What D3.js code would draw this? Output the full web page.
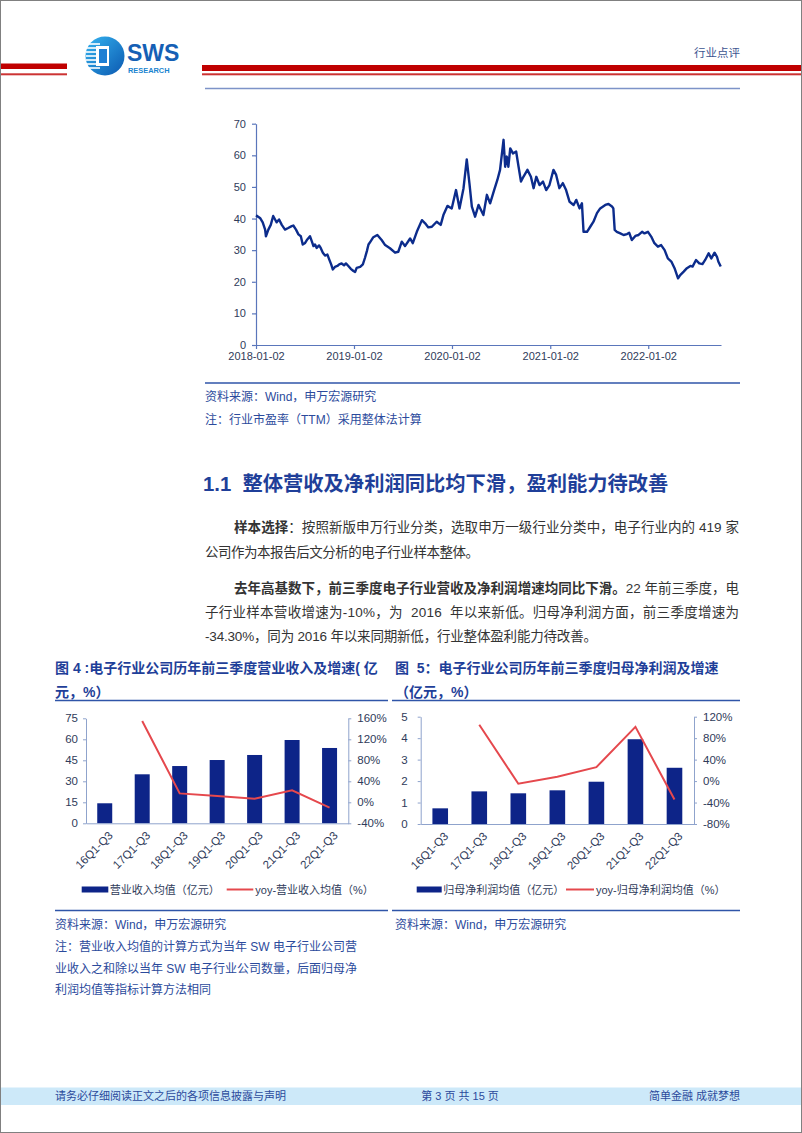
<!DOCTYPE html>
<html><head><meta charset="utf-8">
<script src="https://cdn.jsdelivr.net/npm/d3@7"></script>
<style>body{margin:0;background:#fff} svg{display:block}</style>
</head><body><svg id="page" width="802" height="1133"></svg>
<script>
// ---------- DATA ----------
const peDates = ["2018-01-02","2018-01-17","2018-01-27","2018-02-05","2018-02-08","2018-02-17","2018-02-26","2018-03-07","2018-03-14","2018-03-20","2018-03-29","2018-04-08","2018-04-20","2018-05-02","2018-05-15","2018-05-21","2018-05-31","2018-06-09","2018-06-18","2018-06-25","2018-07-04","2018-07-12","2018-07-22","2018-07-29","2018-08-04","2018-08-10","2018-08-16","2018-08-25","2018-08-31","2018-09-08","2018-09-16","2018-09-25","2018-10-02","2018-10-09","2018-10-15","2018-10-23","2018-11-01","2018-11-08","2018-11-17","2018-11-26","2018-12-03","2018-12-12","2018-12-21","2018-12-31","2019-01-06","2019-01-12","2019-01-25","2019-02-04","2019-02-12","2019-02-19","2019-02-25","2019-03-05","2019-03-15","2019-03-30","2019-04-15","2019-04-28","2019-05-16","2019-06-04","2019-06-16","2019-06-29","2019-07-11","2019-07-30","2019-08-09","2019-08-24","2019-09-12","2019-09-24","2019-10-06","2019-10-19","2019-11-06","2019-11-21","2019-12-01","2019-12-16","2020-01-01","2020-01-17","2020-01-30","2020-02-14","2020-02-26","2020-03-07","2020-03-16","2020-03-28","2020-04-10","2020-04-28","2020-05-11","2020-05-23","2020-06-07","2020-06-19","2020-06-29","2020-07-12","2020-07-18","2020-07-24","2020-07-30","2020-08-06","2020-08-16","2020-08-28","2020-09-06","2020-09-15","2020-09-24","2020-10-09","2020-10-22","2020-11-01","2020-11-11","2020-11-23","2020-12-06","2020-12-18","2020-12-30","2021-01-14","2021-01-24","2021-02-05","2021-02-18","2021-03-02","2021-03-15","2021-03-30","2021-04-09","2021-04-21","2021-04-30","2021-05-06","2021-05-19","2021-05-31","2021-06-12","2021-06-25","2021-07-07","2021-07-26","2021-08-07","2021-08-20","2021-08-25","2021-08-30","2021-09-07","2021-09-20","2021-10-02","2021-10-15","2021-10-23","2021-11-02","2021-11-15","2021-11-27","2021-12-10","2021-12-19","2022-01-01","2022-01-13","2022-01-25","2022-02-07","2022-02-19","2022-03-04","2022-03-16","2022-03-29","2022-04-10","2022-04-23","2022-05-01","2022-05-14","2022-05-26","2022-06-08","2022-06-16","2022-06-29","2022-07-11","2022-07-23","2022-08-02","2022-08-15","2022-08-25","2022-09-06","2022-09-15","2022-09-20","2022-09-29"];
const peValues = [41,40.2,38.8,36.5,34.4,36.5,38,40.8,39.7,38.8,39.7,38,36.5,37,37.6,37.8,36.5,35,34.4,31.8,32.3,33.4,34.4,32.8,31.3,31.8,30.7,31.5,30.7,29.2,28.3,28.6,27,25.5,23.9,24.7,25,25.5,25.8,25.2,25.8,25,24.1,23.4,23.1,24.4,24.7,25.5,27.6,29.7,31.8,32.8,34.1,34.8,33.2,31.6,30.6,29.2,29.5,32.7,31.3,33.7,32.2,35.8,39.5,38.5,37.2,37.4,39,38,41.1,44,43.2,49,43.2,49.6,58.7,51.1,43.8,40.6,44.3,41.1,47.5,44.8,49,52.2,55.4,64.9,56.4,59.6,56.4,62.2,60.6,61.2,56.4,51.7,53.2,55.4,53.2,49.6,53.2,50.6,51.7,49,50.6,55.4,53.8,49.6,51.2,49,45.3,44.3,45.9,43.2,44.8,35.8,35.8,37.4,39,41.7,43.2,44.3,44.6,43.8,43.2,36.4,35.8,35.3,34.8,35.1,35.5,33.2,34.5,34.8,35.8,35.3,35.8,34.3,32.2,31.1,31.6,30,27.4,26.4,24.3,21.1,22.1,23.2,24.3,25,24.8,26.9,25.8,25.6,26.9,29,27.4,29.2,27.9,26.4,24.8];
const peXTicks = ["2018-01-02","2019-01-02","2020-01-02","2021-01-02","2022-01-02"];
const peYTicks = [0,10,20,30,40,50,60,70];
const peEnd = "2022-09-30";

const periods = ["16Q1-Q3","17Q1-Q3","18Q1-Q3","19Q1-Q3","20Q1-Q3","21Q1-Q3","22Q1-Q3"];
const revenueAvg = [14.3,35,40.9,45.2,48.8,59.5,53.8];
const revenueYoy = [null,155,17,12,7,23,-10];
const revLeftTicks = [0,15,30,45,60,75];
const revRightTicks = [-40,0,40,80,120,160];
const profitAvg = [0.73,1.52,1.43,1.57,1.97,3.95,2.62];
const profitYoy = [null,105,-5,8,26,101,-34.3];
const profLeftTicks = [0,1,2,3,4,5];
const profRightTicks = [-80,-40,0,40,80,120];

// ---------- STYLE ----------
const CJK = "'Liberation Sans','Noto Sans CJK SC',sans-serif";
const BLUE_T = "#1f3f99", CAP = "#2b4a9c", BODY = "#333333", AX_TXT = "#2f3b5a";
const BAR = "#0d2488", RED = "#e5484d";

const svg = d3.select("#page");
svg.append("rect").attr("width",802).attr("height",1133).attr("fill","#fff");

// ---------- HEADER ----------
const hdr = svg.append("g");
hdr.append("rect").attr("x",0).attr("y",63.5).attr("width",67).attr("height",5.5).attr("fill","#c00000");
hdr.append("rect").attr("x",0).attr("y",73.3).attr("width",67).attr("height",2).attr("fill","#cc3333");
hdr.append("rect").attr("x",202).attr("y",65).attr("width",600).attr("height",6).attr("fill","#c00000");
hdr.append("rect").attr("x",202).attr("y",73.3).attr("width",600).attr("height",2).attr("fill","#cc3333");
hdr.append("line").attr("x1",205).attr("x2",740).attr("y1",88.5).attr("y2",88.5).attr("stroke","#7d93c8").attr("stroke-width",1.5);
// logo
const defs = svg.append("defs");
const lg = defs.append("linearGradient").attr("id","lg").attr("x1","0").attr("x2","1").attr("y1","0").attr("y2","1");
lg.append("stop").attr("offset","0").attr("stop-color","#35b4f0");
lg.append("stop").attr("offset","1").attr("stop-color","#0b58b0");
hdr.append("circle").attr("cx",105).attr("cy",56).attr("r",19.5).attr("fill","url(#lg)");
[44,48,52,56,60,64,68].forEach(y=>{
  hdr.append("line").attr("x1",86).attr("x2",100).attr("y1",y).attr("y2",y).attr("stroke","#fff").attr("stroke-width",1.6);
});
hdr.append("rect").attr("x",96).attr("y",46).attr("width",13).attr("height",20).attr("fill","#fff");
hdr.append("rect").attr("x",99).attr("y",49).attr("width",8).attr("height",14).attr("fill","#1d7fd4");
hdr.append("text").attr("x",127).attr("y",61).attr("font-family","'Liberation Sans',sans-serif").attr("font-weight","bold")
  .attr("font-size",23).attr("fill","#1560b5").text("SWS");
hdr.append("text").attr("x",128).attr("y",72.5).attr("font-family","'Liberation Sans',sans-serif").attr("font-weight","bold")
  .attr("font-size",7.4).attr("fill","#1a84d0").text("RESEARCH");
hdr.append("text").attr("x",740).attr("y",56.5).attr("text-anchor","end").attr("font-family",CJK)
  .attr("font-size",11.5).attr("fill","#3c5490").text("行业点评");

// ---------- PE LINE CHART ----------
const pe = svg.append("g");
const parse = d3.timeParse("%Y-%m-%d");
const peData = peDates.map((d,i)=>({date:parse(d), v:peValues[i]}));
const xT = d3.scaleTime().domain([parse(peXTicks[0]), parse(peEnd)]).range([256,721]);
const yT = d3.scaleLinear().domain([0,70]).range([345,123.7]);
const fmtTick = d3.timeFormat("%Y-%m-%d");
const gx = pe.append("g").attr("transform","translate(0,345)")
  .call(d3.axisBottom(xT).tickValues(peXTicks.map(parse)).tickFormat(fmtTick).tickSize(4).tickPadding(3).tickSizeOuter(0));
const gy = pe.append("g").attr("transform","translate(256,0)")
  .call(d3.axisLeft(yT).tickValues(peYTicks).tickSize(4).tickPadding(6).tickSizeOuter(0));
[gx,gy].forEach(g=>{
  g.selectAll("path,line").attr("stroke","#5a76bb").attr("stroke-width",1.2);
  g.selectAll("text").attr("font-family","'Liberation Sans',sans-serif").attr("font-size",11).attr("fill",AX_TXT);
});
pe.append("path").datum(peData)
  .attr("d", d3.line().x(d=>xT(d.date)).y(d=>yT(d.v)))
  .attr("fill","none").attr("stroke","#0c2c8c").attr("stroke-width",2.4).attr("stroke-linejoin","round");

pe.append("line").attr("x1",205).attr("x2",740).attr("y1",383).attr("y2",383).attr("stroke","#2f55a8").attr("stroke-width",1.5);
pe.append("text").attr("x",205).attr("y",400.5).attr("font-family",CJK).attr("font-size",12).attr("fill",CAP).text("资料来源：Wind，申万宏源研究");
pe.append("text").attr("x",205).attr("y",423.5).attr("font-family",CJK).attr("font-size",12).attr("fill",CAP).text("注：行业市盈率（TTM）采用整体法计算");

// ---------- HEADING & BODY ----------
svg.append("text").attr("x",203).attr("y",490.5).attr("font-family",CJK).attr("font-weight","bold")
  .attr("font-size",20.3).attr("fill",BLUE_T).attr("xml:space","preserve").text("1.1  整体营收及净利润同比均下滑，盈利能力待改善");

function bodyLine(x, y, parts, target){
  const t = svg.append("text").attr("x",x).attr("y",y).attr("font-family",CJK).attr("font-size",13.5).attr("fill",BODY).attr("xml:space","preserve");
  parts.forEach(p=>{ t.append("tspan").attr("font-weight",p.b?"bold":"normal").text(p.t); });
  if(target){
    const L = t.node().getComputedTextLength();
    const n = parts.reduce((a,p)=>a+p.t.length,0);
    t.attr("letter-spacing", ((target - L)/(n-1)).toFixed(3));
  }
  return t;
}
bodyLine(234,532,[{t:"样本选择",b:true},{t:"：按照新版申万行业分类，选取申万一级行业分类中，电子行业内的 419 家"}],505);
bodyLine(205,556.5,[{t:"公司作为本报告后文分析的电子行业样本整体。"}],274);
bodyLine(234,592.5,[{t:"去年高基数下，前三季度电子行业营收及净利润增速均同比下滑。",b:true},{t:"22 年前三季度，电"}],505);
bodyLine(205,616.5,[{t:"子行业样本营收增速为-10%，为  2016  年以来新低。归母净利润方面，前三季度增速为"}],534);
bodyLine(205,641,[{t:"-34.30%，同为 2016 年以来同期新低，行业整体盈利能力待改善。"}],392);

// ---------- BAR + LINE CHARTS ----------
function comboChart(o){
  const g = svg.append("g");
  o.title.forEach((s,i)=>{
    g.append("text").attr("x",o.tx).attr("y",673+i*24).attr("font-family",CJK).attr("font-weight","bold")
      .attr("font-size",14).attr("fill",BLUE_T).attr("xml:space","preserve").text(s);
  });
  g.append("line").attr("x1",o.lineX[0]).attr("x2",o.lineX[1]).attr("y1",700.5).attr("y2",700.5).attr("stroke","#2f55a8").attr("stroke-width",1.5);
  const x = d3.scaleBand().domain(periods).range([o.x0,o.x1]).paddingInner(0.6).paddingOuter(0.3);
  const yL = d3.scaleLinear().domain(o.lDom).range([o.yb,o.yt]);
  const yR = d3.scaleLinear().domain(o.rDom).range([o.yb,o.yt]);
  g.selectAll("rect.bar").data(o.bars).join("rect").attr("class","bar")
    .attr("x",(d,i)=>x(periods[i])).attr("width",x.bandwidth())
    .attr("y",d=>yL(d)).attr("height",d=>yL(0)-yL(d)).attr("fill",BAR);
  const axL = g.append("g").attr("transform",`translate(${o.x0},0)`)
    .call(d3.axisLeft(yL).tickValues(o.lTicks).tickSize(3).tickPadding(o.lpad).tickFormat(d3.format("d")).tickSizeOuter(0));
  const axR = g.append("g").attr("transform",`translate(${o.x1},0)`)
    .call(d3.axisRight(yR).tickValues(o.rTicks).tickSize(3).tickPadding(6).tickFormat(d=>d+"%").tickSizeOuter(0));
  const axB = g.append("g").attr("transform",`translate(0,${o.yb})`)
    .call(d3.axisBottom(x).tickSize(0).tickSizeOuter(0));
  [axL,axR,axB].forEach(a=>{
    a.selectAll("path,line").attr("stroke","#8fa3cc").attr("stroke-width",1);
    a.selectAll("text").attr("font-family","'Liberation Sans',sans-serif").attr("font-size",11.5).attr("fill",AX_TXT);
  });
  axB.selectAll("text").attr("text-anchor","end").attr("dy","0.35em")
    .attr("transform","translate(6,10) rotate(-45)").attr("y",0);
  const pts = o.yoy.map((v,i)=>({v, c:x(periods[i])+x.bandwidth()/2})).filter(d=>d.v!==null);
  g.append("path").datum(pts).attr("d",d3.line().x(d=>d.c).y(d=>yR(d.v)))
    .attr("fill","none").attr("stroke",RED).attr("stroke-width",2);
  // legend
  g.append("rect").attr("x",o.leg[0]).attr("y",886.5).attr("width",o.leg[1]-o.leg[0]).attr("height",6).attr("fill",BAR);
  g.append("text").attr("x",o.leg[1]+1.5).attr("y",893.5).attr("font-family",CJK).attr("font-size",11).attr("fill",AX_TXT).text(o.legTxt[0]);
  g.append("line").attr("x1",o.leg[2]).attr("x2",o.leg[3]).attr("y1",889.5).attr("y2",889.5).attr("stroke",RED).attr("stroke-width",2);
  g.append("text").attr("x",o.leg[3]+2).attr("y",893.5).attr("font-family",CJK).attr("font-size",11).attr("fill",AX_TXT).text(o.legTxt[1]);
  g.append("line").attr("x1",o.lineX[0]).attr("x2",o.lineX[1]).attr("y1",910.5).attr("y2",910.5).attr("stroke","#2f55a8").attr("stroke-width",1.5);
  g.append("text").attr("x",o.tx).attr("y",929).attr("font-family",CJK).attr("font-size",12).attr("fill",CAP).text("资料来源：Wind，申万宏源研究");
}
comboChart({
  title:["图 4 :电子行业公司历年前三季度营业收入及增速( 亿","元，%）"], tx:55, lineX:[55,388],
  x0:86, x1:348.3, yt:718.3, yb:823.3, lDom:[0,75], rDom:[-40,160], lTicks:revLeftTicks, rTicks:revRightTicks, lpad:5,
  bars:revenueAvg, yoy:revenueYoy, leg:[81.7,108.3,226.7,253.3], legTxt:["营业收入均值（亿元）","yoy-营业收入均值（%）"]
});
comboChart({
  title:["图  5：电子行业公司历年前三季度归母净利润及增速","（亿元，%）"], tx:395, lineX:[392,740],
  x0:420.7, x1:694, yt:716.7, yb:824, lDom:[0,5], rDom:[-80,120], lTicks:profLeftTicks, rTicks:profRightTicks, lpad:10,
  bars:profitAvg, yoy:profitYoy, leg:[416.7,441.7,566,594], legTxt:["归母净利润均值（亿元）","yoy-归母净利润均值（%）"]
});
["注：营业收入均值的计算方式为当年 SW 电子行业公司营","业收入之和除以当年 SW 电子行业公司数量，后面归母净","利润均值等指标计算方法相同"].forEach((s,i)=>{
  svg.append("text").attr("x",55).attr("y",951+i*21.7).attr("font-family",CJK).attr("font-size",12).attr("fill",CAP).text(s);
});

// ---------- FOOTER ----------
svg.append("rect").attr("x",0).attr("y",1087.5).attr("width",802).attr("height",17.5).attr("fill","#cde9f9");
svg.append("text").attr("x",55).attr("y",1100).attr("font-family",CJK).attr("font-size",11).attr("fill",CAP).text("请务必仔细阅读正文之后的各项信息披露与声明");
svg.append("text").attr("x",460).attr("y",1100).attr("text-anchor","middle").attr("font-family",CJK).attr("font-size",11).attr("fill",CAP).text("第 3 页 共 15 页");
svg.append("text").attr("x",740).attr("y",1100).attr("text-anchor","end").attr("font-family",CJK).attr("font-size",11).attr("fill",CAP).text("简单金融 成就梦想");
svg.append("rect").attr("x",0.5).attr("y",0.5).attr("width",801).attr("height",1132).attr("fill","none").attr("stroke","#808080").attr("stroke-width",1);
</script></body></html>
